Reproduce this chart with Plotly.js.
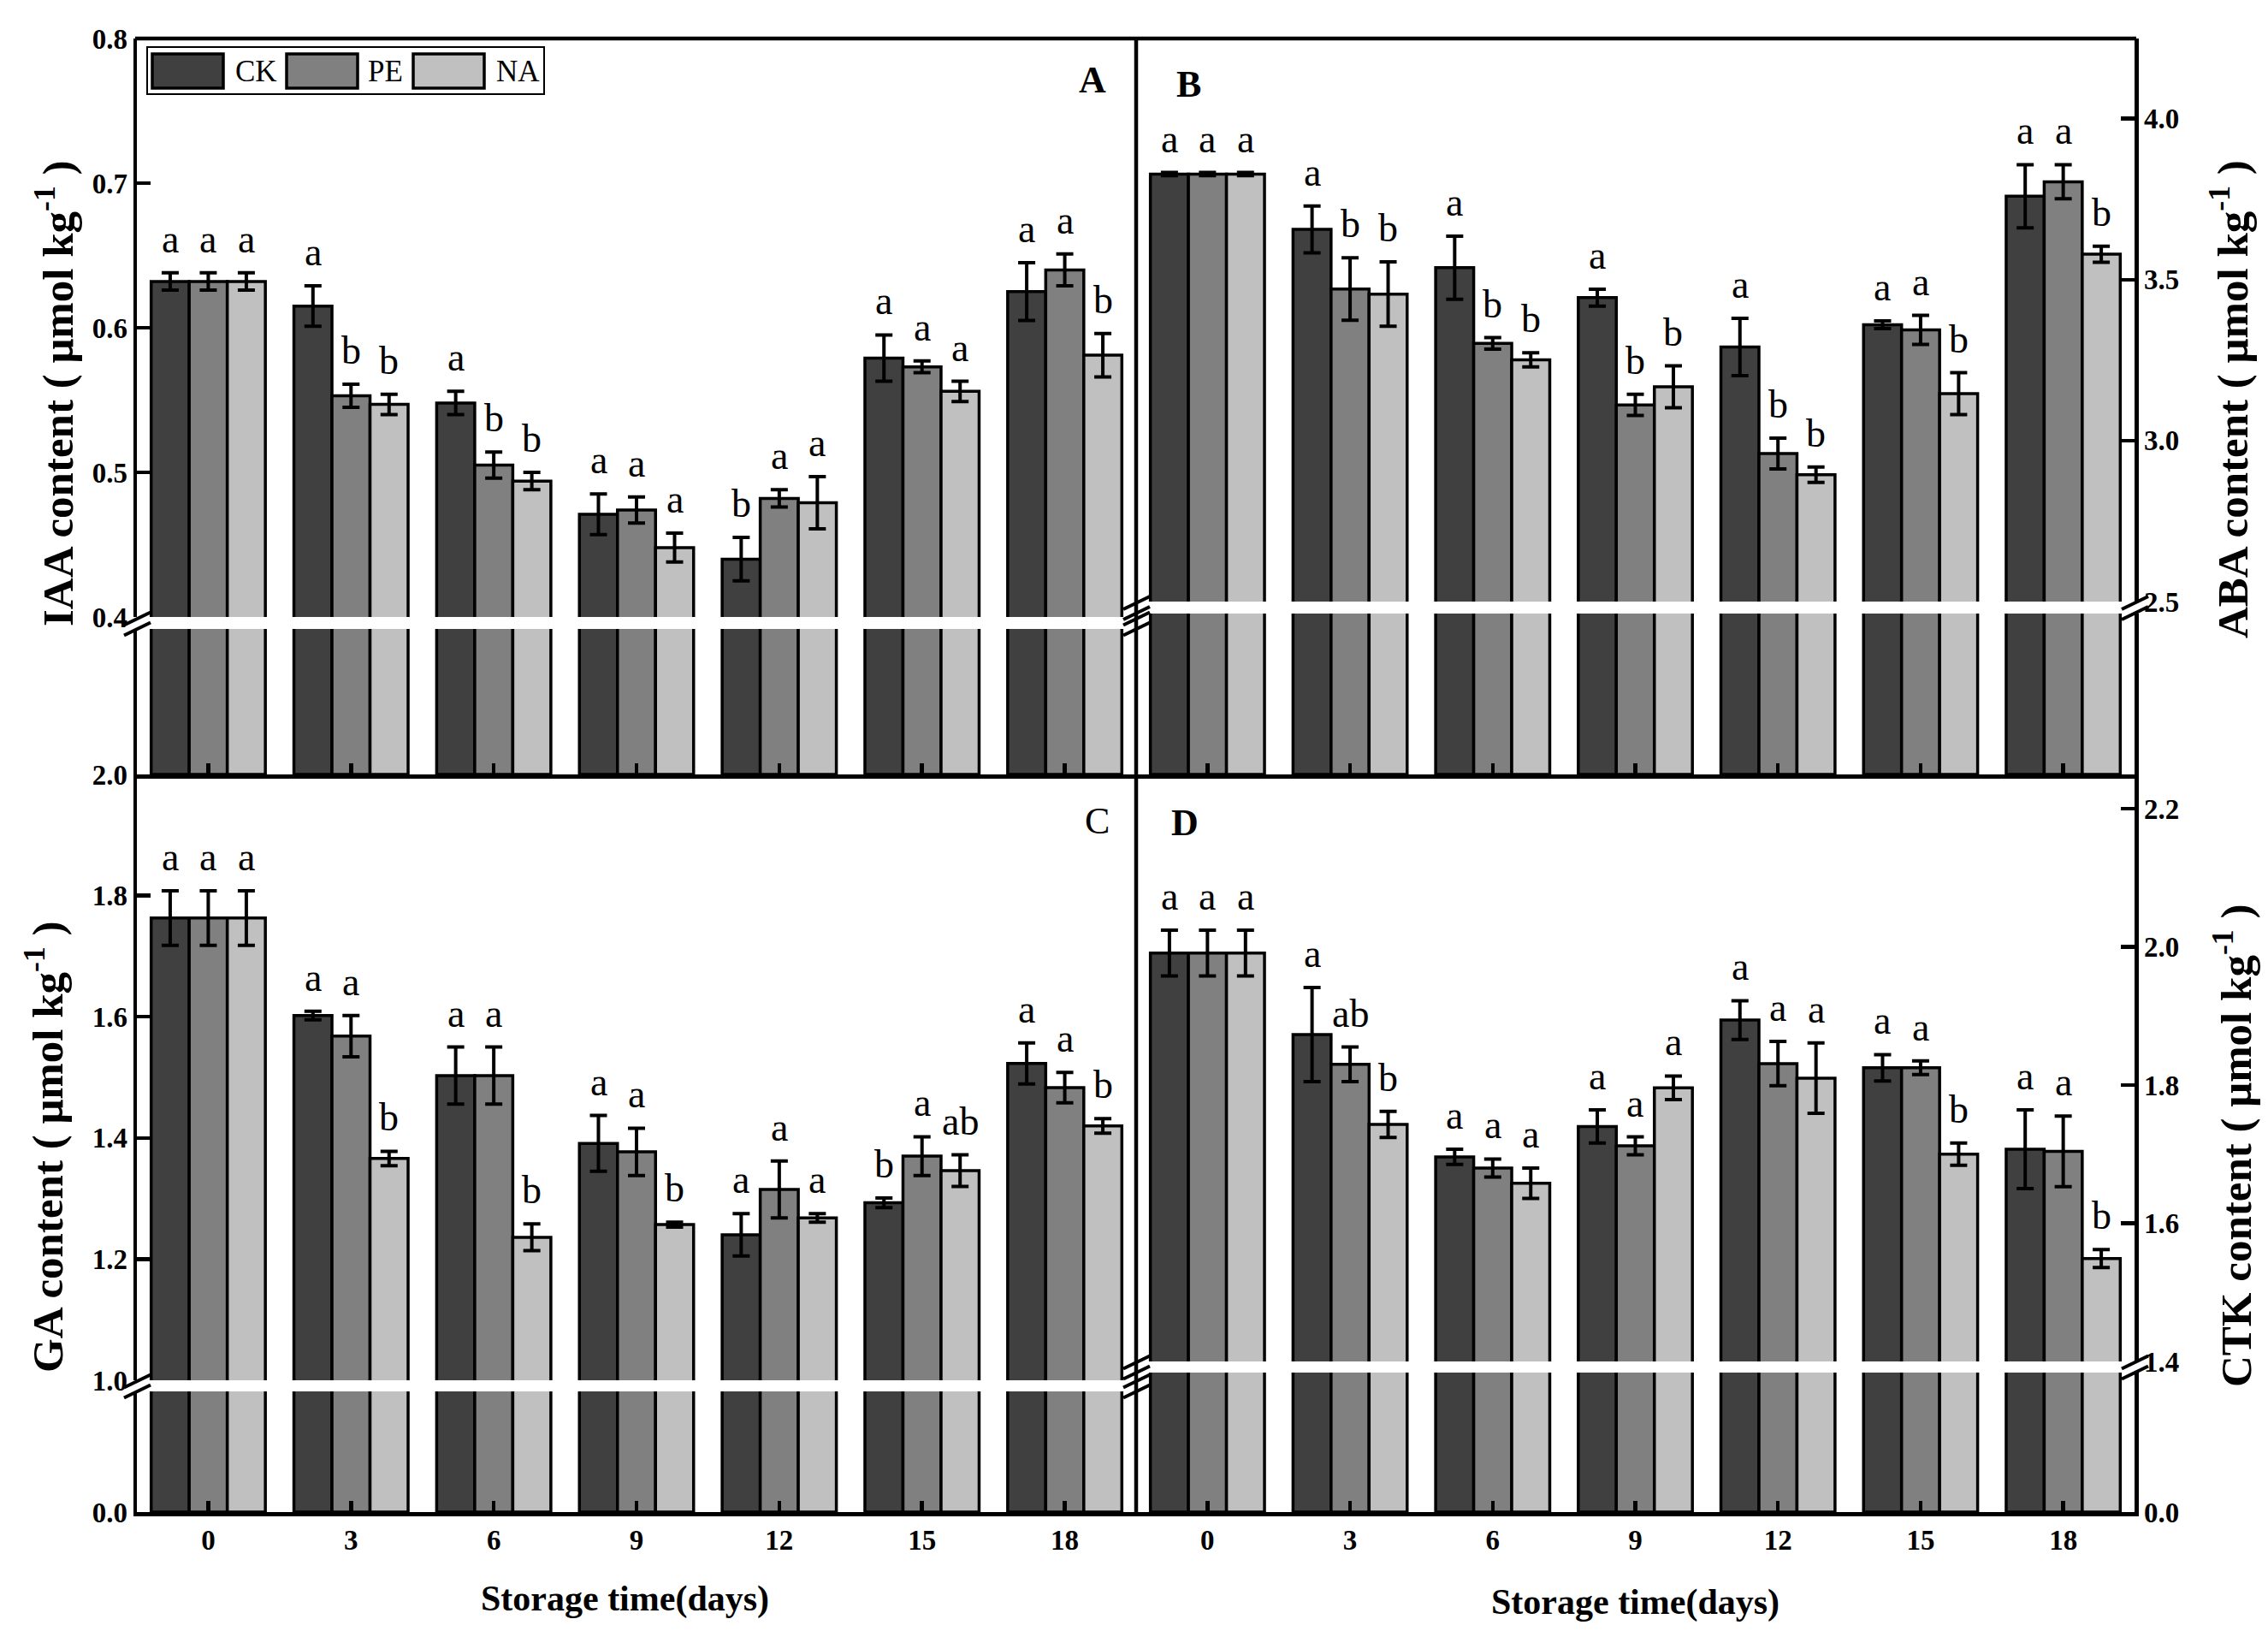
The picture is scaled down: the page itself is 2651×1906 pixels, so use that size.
<!DOCTYPE html>
<html>
<head>
<meta charset="utf-8">
<script src="https://cdn.plot.ly/plotly-3.0.1.min.js"></script>
<style>html,body{margin:0;padding:0;background:#fff;}#chart{width:2651px;height:1906px;}</style>
</head>
<body>
<div id="chart"></div>
<script>
// ---------------- DATA ----------------
const days = ['0', '3', '6', '9', '12', '15', '18'];
const seriesNames = ['CK', 'PE', 'NA'];

// IAA content (panel A)
const iaaCK = [0.632, 0.615, 0.548, 0.471, 0.440, 0.579, 0.625];
const iaaCKerr = [0.006, 0.014, 0.008, 0.014, 0.015, 0.016, 0.020];
const iaaPE = [0.632, 0.553, 0.505, 0.474, 0.482, 0.573, 0.640];
const iaaPEerr = [0.006, 0.008, 0.009, 0.009, 0.006, 0.004, 0.011];
const iaaNA = [0.632, 0.547, 0.494, 0.448, 0.479, 0.556, 0.581];
const iaaNAerr = [0.006, 0.007, 0.006, 0.010, 0.018, 0.007, 0.015];
const iaaLetCK = ['a', 'a', 'a', 'a', 'b', 'a', 'a'];
const iaaLetPE = ['a', 'b', 'b', 'a', 'a', 'a', 'a'];
const iaaLetNA = ['a', 'b', 'b', 'a', 'a', 'a', 'b'];

// ABA content (panel B)
const abaCK = [3.828, 3.656, 3.537, 3.444, 3.291, 3.360, 3.759];
const abaCKerr = [0.005, 0.073, 0.098, 0.026, 0.089, 0.012, 0.098];
const abaPE = [3.828, 3.471, 3.302, 3.111, 2.960, 3.344, 3.804];
const abaPEerr = [0.005, 0.097, 0.018, 0.033, 0.048, 0.045, 0.053];
const abaNA = [3.828, 3.455, 3.251, 3.167, 2.894, 3.146, 3.579];
const abaNAerr = [0.005, 0.100, 0.022, 0.065, 0.024, 0.065, 0.025];
const abaLetCK = ['a', 'a', 'a', 'a', 'a', 'a', 'a'];
const abaLetPE = ['a', 'b', 'b', 'b', 'b', 'a', 'a'];
const abaLetNA = ['a', 'b', 'b', 'b', 'b', 'b', 'b'];

// GA content (panel C)
const gaCK = [1.763, 1.602, 1.503, 1.391, 1.240, 1.293, 1.523];
const gaCKerr = [0.045, 0.007, 0.047, 0.046, 0.035, 0.008, 0.034];
const gaPE = [1.763, 1.568, 1.503, 1.377, 1.315, 1.370, 1.483];
const gaPEerr = [0.045, 0.034, 0.047, 0.039, 0.047, 0.032, 0.025];
const gaNA = [1.763, 1.366, 1.236, 1.257, 1.268, 1.346, 1.420];
const gaNAerr = [0.045, 0.012, 0.022, 0.004, 0.007, 0.026, 0.012];
const gaLetCK = ['a', 'a', 'a', 'a', 'a', 'b', 'a'];
const gaLetPE = ['a', 'a', 'a', 'a', 'a', 'a', 'a'];
const gaLetNA = ['a', 'b', 'b', 'b', 'a', 'ab', 'b'];

// CTK content (panel D)
const ctkCK = [1.991, 1.873, 1.696, 1.740, 1.894, 1.825, 1.707];
const ctkCKerr = [0.033, 0.068, 0.011, 0.024, 0.028, 0.019, 0.057];
const ctkPE = [1.991, 1.830, 1.680, 1.712, 1.831, 1.825, 1.704];
const ctkPEerr = [0.033, 0.025, 0.013, 0.013, 0.032, 0.010, 0.051];
const ctkNA = [1.991, 1.743, 1.658, 1.796, 1.810, 1.700, 1.549];
const ctkNAerr = [0.033, 0.019, 0.022, 0.017, 0.051, 0.016, 0.013];
const ctkLetCK = ['a', 'a', 'a', 'a', 'a', 'a', 'a'];
const ctkLetPE = ['a', 'ab', 'a', 'a', 'a', 'a', 'a'];
const ctkLetNA = ['a', 'b', 'a', 'a', 'a', 'b', 'b'];

// Axis tick labels
const iaaTicks = [0.4, 0.5, 0.6, 0.7, 0.8];
const iaaTickText = ['0.4', '0.5', '0.6', '0.7', '0.8'];
const abaTicks = [2.5, 3.0, 3.5, 4.0];
const abaTickText = ['2.5', '3.0', '3.5', '4.0'];
const gaTicks = [1.0, 1.2, 1.4, 1.6, 1.8, 2.0];
const gaTickText = ['1.0', '1.2', '1.4', '1.6', '1.8', '2.0'];
const ctkTicks = [1.4, 1.6, 1.8, 2.0, 2.2];
const ctkTickText = ['1.4', '1.6', '1.8', '2.0', '2.2'];

// ---------------- STYLE / LAYOUT ----------------
const W = 2651, H = 1906;
const fx = px => px / W;
const fy = py => 1 - py / H;
const FONT = 'Liberation Serif, Times New Roman, serif';
const colors = ['#404040', '#808080', '#c0c0c0'];
const LW = 4.5;

const panels = [
  {x: 'x', yu: 'y', yl: 'y2', vals: [iaaCK, iaaPE, iaaNA], errs: [iaaCKerr, iaaPEerr, iaaNAerr], lets: [iaaLetCK, iaaLetPE, iaaLetNA]},
  {x: 'x2', yu: 'y3', yl: 'y4', vals: [abaCK, abaPE, abaNA], errs: [abaCKerr, abaPEerr, abaNAerr], lets: [abaLetCK, abaLetPE, abaLetNA]},
  {x: 'x3', yu: 'y5', yl: 'y6', vals: [gaCK, gaPE, gaNA], errs: [gaCKerr, gaPEerr, gaNAerr], lets: [gaLetCK, gaLetPE, gaLetNA]},
  {x: 'x4', yu: 'y7', yl: 'y8', vals: [ctkCK, ctkPE, ctkNA], errs: [ctkCKerr, ctkPEerr, ctkNAerr], lets: [ctkLetCK, ctkLetPE, ctkLetNA]}
];

const traces = [];
const annotations = [];
const offsets = [-0.8 / 3, 0, 0.8 / 3];

panels.forEach(p => {
  for (let s = 0; s < 3; s++) {
    const common = {
      type: 'bar', x: days, y: p.vals[s], name: seriesNames[s], xaxis: p.x,
      marker: {color: colors[s], line: {color: '#000', width: 3.5}},
      showlegend: false, hoverinfo: 'skip'
    };
    traces.push(Object.assign({}, common, {
      yaxis: p.yu,
      error_y: {type: 'data', array: p.errs[s], visible: true, color: '#000', thickness: 4, width: 10}
    }));
    traces.push(Object.assign({}, common, {yaxis: p.yl}));
    for (let i = 0; i < days.length; i++) {
      annotations.push({
        xref: p.x, yref: p.yu, x: i + offsets[s], y: p.vals[s][i] + p.errs[s][i],
        text: p.lets[s][i], showarrow: false, yanchor: 'bottom', xanchor: 'center', yshift: 12,
        font: {family: FONT, size: 46, color: '#000'}
      });
    }
  }
});

const tickFont = {family: FONT, size: 33, color: '#000', weight: 'bold'};
const baseX = {
  type: 'category', categoryorder: 'array', categoryarray: days, range: [-0.5, 6.5],
  showline: true, linewidth: LW, linecolor: '#000', ticks: 'inside', ticklen: 13, tickwidth: LW,
  tickcolor: '#000', showgrid: false, zeroline: false, fixedrange: true, tickfont: tickFont
};
const baseY = {
  showline: true, linewidth: LW, linecolor: '#000', ticks: 'inside', ticklen: 16, tickwidth: LW,
  tickcolor: '#000', showgrid: false, zeroline: false, fixedrange: true, tickfont: tickFont, tickmode: 'array'
};
const leftDom = [fx(160), fx(1328)];
const rightDom = [fx(1328), fx(2495)];

const layout = {
  width: W, height: H, margin: {l: 0, r: 0, t: 0, b: 0},
  paper_bgcolor: '#fff', plot_bgcolor: 'rgba(0,0,0,0)',
  barmode: 'group', bargap: 0.2, bargroupgap: 0,
  font: {family: FONT, color: '#000'},
  xaxis: Object.assign({}, baseX, {domain: leftDom, anchor: 'y2', showticklabels: false}),
  xaxis2: Object.assign({}, baseX, {domain: rightDom, anchor: 'y4', showticklabels: false}),
  xaxis3: Object.assign({}, baseX, {domain: leftDom, anchor: 'y6', showticklabels: true}),
  xaxis4: Object.assign({}, baseX, {domain: rightDom, anchor: 'y8', showticklabels: true}),
  yaxis: Object.assign({}, baseY, {domain: [fy(721), fy(45)], range: [0.4, 0.8], anchor: 'x', side: 'left', tickvals: iaaTicks, ticktext: iaaTickText}),
  yaxis2: Object.assign({}, baseY, {domain: [fy(905), fy(735)], range: [0, 0.4], anchor: 'x', side: 'left', ticks: '', showticklabels: false}),
  yaxis3: Object.assign({}, baseY, {domain: [fy(703), fy(45)], range: [2.5, 4.249], anchor: 'x2', side: 'right', tickvals: abaTicks, ticktext: abaTickText}),
  yaxis4: Object.assign({}, baseY, {domain: [fy(905), fy(717)], range: [0, 2.5], anchor: 'x2', side: 'right', ticks: '', showticklabels: false}),
  yaxis5: Object.assign({}, baseY, {domain: [fy(1613), fy(905)], range: [1.0, 2.0], anchor: 'x3', side: 'left', tickvals: gaTicks, ticktext: gaTickText}),
  yaxis6: Object.assign({}, baseY, {domain: [fy(1767), fy(1626)], range: [0, 1.0], anchor: 'x3', side: 'left', tickvals: [0], ticktext: ['0.0']}),
  yaxis7: Object.assign({}, baseY, {domain: [fy(1591), fy(905)], range: [1.4, 2.2495], anchor: 'x4', side: 'right', tickvals: ctkTicks, ticktext: ctkTickText}),
  yaxis8: Object.assign({}, baseY, {domain: [fy(1767), fy(1604)], range: [0, 1.4], anchor: 'x4', side: 'right', tickvals: [0], ticktext: ['0.0']}),
  annotations: annotations,
  shapes: []
};

// frame lines
const line = (x0, y0, x1, y1, w) => ({type: 'line', xref: 'paper', yref: 'paper', x0: fx(x0), y0: fy(y0), x1: fx(x1), y1: fy(y1), line: {color: '#000', width: w || LW}});
layout.shapes.push(line(158, 45, 2497, 45));
layout.shapes.push(line(1328, 45, 1328, 1767));
// break marks
function brk(xc, yc) {
  layout.shapes.push(line(xc - 15, yc + 2, xc + 16, yc - 13, 4));
  layout.shapes.push(line(xc - 15, yc + 14, xc + 16, yc - 1, 4));
}
brk(160, 728.5); brk(1328, 728.5); brk(1328, 710); brk(2495, 710);
brk(160, 1619.5); brk(1328, 1619.5); brk(1328, 1597.5); brk(2495, 1597.5);

// legend (custom, inside panel A)
layout.shapes.push({type: 'rect', xref: 'paper', yref: 'paper', x0: fx(172), y0: fy(110), x1: fx(636), y1: fy(55), line: {color: '#000', width: 2}, fillcolor: 'rgba(0,0,0,0)'});
const legX = [178, 335, 483];
const legTX = [273, 428, 578];
for (let s = 0; s < 3; s++) {
  layout.shapes.push({type: 'rect', xref: 'paper', yref: 'paper', x0: fx(legX[s]), y0: fy(103), x1: fx(legX[s] + 83), y1: fy(63), line: {color: '#000', width: 3.5}, fillcolor: colors[s]});
  annotations.push({xref: 'paper', yref: 'paper', x: fx(legTX[s]), y: fy(83), xanchor: 'left', yanchor: 'middle', text: seriesNames[s], showarrow: false, font: {family: FONT, size: 35, color: '#000'}});
}

// panel letters
const panelLab = [['A', 1277, 94, 'bold'], ['B', 1389, 98, 'bold'], ['C', 1282, 960, 'normal'], ['D', 1385, 962, 'bold']];
panelLab.forEach(l => annotations.push({xref: 'paper', yref: 'paper', x: fx(l[1]), y: fy(l[2]), text: l[0], showarrow: false, xanchor: 'center', yanchor: 'middle', font: {family: FONT, size: 44, color: '#000', weight: l[3]}}));

// axis titles
const titleFont = {family: FONT, size: 51, color: '#000', weight: 'bold'};
const ytitles = [
  ['IAA content ( μmol kg<sup>-1</sup> )', 64, 460],
  ['GA content ( μmol kg<sup>-1</sup> )', 52, 1340],
  ['ABA content ( μmol kg<sup>-1</sup> )', 2606, 467],
  ['CTK content ( μmol kg<sup>-1</sup> )', 2610, 1339]
];
ytitles.forEach(t => annotations.push({xref: 'paper', yref: 'paper', x: fx(t[1]), y: fy(t[2]), text: t[0], textangle: -90, showarrow: false, xanchor: 'center', yanchor: 'middle', font: titleFont}));
const xTitleFont = {family: FONT, size: 42, color: '#000', weight: 'bold'};
annotations.push({xref: 'paper', yref: 'paper', x: fx(731), y: fy(1868), text: 'Storage time(days)', showarrow: false, xanchor: 'center', yanchor: 'middle', font: xTitleFont});
annotations.push({xref: 'paper', yref: 'paper', x: fx(1911), y: fy(1872), text: 'Storage time(days)', showarrow: false, xanchor: 'center', yanchor: 'middle', font: xTitleFont});

Plotly.newPlot('chart', traces, layout, {displayModeBar: false, staticPlot: true});
</script>
</body>
</html>
